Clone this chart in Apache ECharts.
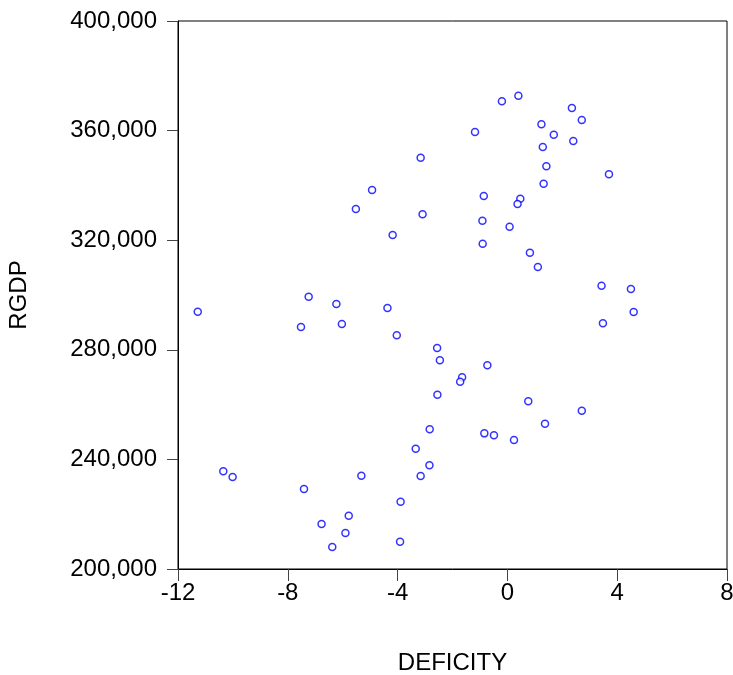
<!DOCTYPE html>
<html>
<head>
<meta charset="utf-8">
<script src="https://cdn.jsdelivr.net/npm/echarts@6/dist/echarts.min.js"></script>
<style>
  html, body { margin: 0; padding: 0; background: #fff; }
  #chart { width: 733px; height: 675px; }
</style>
</head>
<body>
<div id="chart"></div>
<script>
// DEFICITY (x) and RGDP (y)
var deficity = [
  -3.16, -4.93, -5.52, -3.09, -4.18,
  0.40, -0.20, 2.35, 2.71, 1.24, -1.18, 1.69, 2.40, 1.29, 1.42,
  3.70, 1.32, -0.86, 0.47, 0.37, -0.91, 0.08, -0.90, 0.82, 1.11,
  -11.28, -7.24, -6.23, -4.37, -7.52, -6.03, -4.03, -2.56, -2.46, -2.55,
  3.43, 4.50, 4.60, 3.48, -0.73, -1.65, -1.72, 0.76, 2.71,
  -2.83, -3.34, -2.84, -3.16, -10.35, -10.01, -5.32, -7.41, -3.89,
  -5.78, -6.77, -5.90, -6.38, -3.91,
  -0.84, -0.49, 0.24, 1.37
]
var rgdp = [
  350100, 338300, 331400, 329450, 321900,
  372700, 370700, 368250, 363870, 362300, 359500, 358500, 356200, 354000, 346970,
  344050, 340600, 336100, 335150, 333200, 327100, 324900, 318700, 315450, 310200,
  293900, 299400, 296700, 295250, 288300, 289400, 285300, 280650, 276150, 263600,
  303400, 302200, 293800, 289700, 274350, 269950, 268350, 261200, 257750,
  250980, 243900, 237850, 233950, 235650, 233600, 234050, 229200, 224550,
  219450, 216400, 213150, 208050, 209950,
  249500, 248800, 247100, 253050
]
var xTicks = [-12, -8, -4, 0, 4, 8]
var yTicks = [200000, 240000, 280000, 320000, 360000, 400000]

var points = deficity.map(function (v, i) { return [v, rgdp[i]] })

var fontName = 'Liberation Sans'
var myChart = echarts.init(document.getElementById('chart'))
var option = {
  animation: false,
  grid: {
    left: 178,
    right: 6,
    top: 21,
    bottom: 106,
    outerBoundsMode: 'none',
    containLabel: false,
    show: true,
    borderColor: '#000',
    borderWidth: 1
  },
  xAxis: {
    type: 'value',
    min: xTicks[0],
    max: xTicks[xTicks.length - 1],
    interval: 4,
    name: 'DEFICITY',
    nameLocation: 'middle',
    nameGap: 82,
    nameTextStyle: { color: '#000', fontSize: 24, fontFamily: fontName },
    axisLine: { show: true, onZero: false, lineStyle: { color: '#000', width: 1 } },
    axisTick: { show: true, inside: false, length: 12, lineStyle: { color: '#444' } },
    axisLabel: { color: '#000', fontSize: 24, fontFamily: fontName, margin: 12 },
    splitLine: { show: false }
  },
  yAxis: {
    type: 'value',
    min: yTicks[0],
    max: yTicks[yTicks.length - 1],
    interval: 40000,
    name: 'RGDP',
    nameLocation: 'middle',
    nameGap: 147,
    nameRotate: 90,
    nameTextStyle: { color: '#000', fontSize: 24, fontFamily: fontName },
    axisLine: { show: true, onZero: false, lineStyle: { color: '#000', width: 1 } },
    axisTick: { show: true, inside: false, length: 11, lineStyle: { color: '#444' } },
    axisLabel: {
      color: '#000', fontSize: 24, fontFamily: fontName, margin: 21,
      formatter: function (v) { return v.toLocaleString('en-US') }
    },
    splitLine: { show: false }
  },
  series: [
    {
      type: 'scatter',
      data: points,
      symbol: 'circle',
      symbolSize: 7,
      itemStyle: {
        color: '#fff',
        borderColor: '#0000ff',
        borderWidth: 1.5
      }
    }
  ]
}
myChart.setOption(option)
</script>
</body>
</html>
